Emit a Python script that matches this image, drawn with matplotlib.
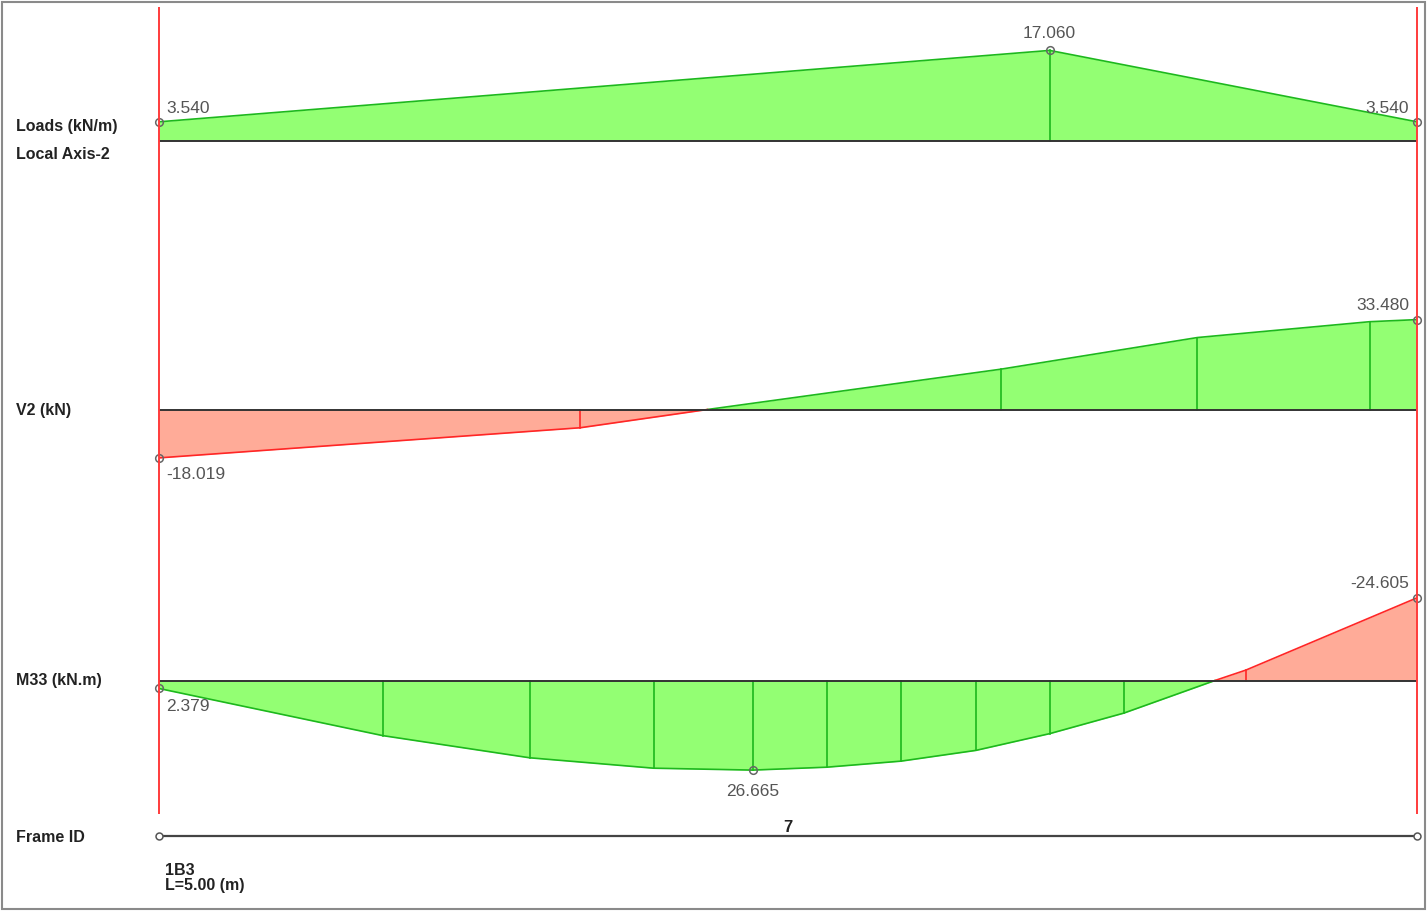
import numpy as np
import matplotlib
matplotlib.use("Agg")
import matplotlib.pyplot as plt
from matplotlib.patches import Rectangle

plt.rcParams['font.family'] = ['Liberation Sans', 'DejaVu Sans']

# ==========================
# Beam data
# ==========================
L = 5.0  # beam length (m)
frame_name = "1B3"
frame_id = "7"

load_x = [0.0, 3.54, 5.0]
load_w = [3.540, 17.060, 3.540]          # kN/m

shear_x = [0.0, 1.674, 2.180, 3.345, 4.127, 4.812, 5.0]
shear_v = [-18.019, -6.8, 0.0, 15.0, 26.8, 32.7, 33.480]   # kN

moment_x = [0.0, 0.889, 1.473, 1.966, 2.359, 2.654, 2.949, 3.247,
            3.541, 3.835, 4.197, 4.320, 5.0]
moment_m = [2.379, 16.4, 23.0, 26.1, 26.665, 25.8, 24.0, 20.8,
            15.8, 9.7, 0.0, -3.1, -24.605]                  # kN.m

# ==========================
# Layout / style
# ==========================
W, H = 1428, 912
X0, X1 = 159, 1417
GREEN_FILL = '#93ff73'
GREEN_EDGE = '#1db81d'
RED_FILL = '#ffab98'
RED_EDGE = '#ff2626'
VAL_COLOR = '#555555'
LBL_COLOR = '#222222'

fig = plt.figure(figsize=(W / 100, H / 100), dpi=100)


def panel(base, scale, up, down, invert=False):
    """Axes whose x spans the beam and whose zero line sits at pixel row `base`."""
    ax = fig.add_axes([X0 / W, (H - base - 0.5 - down) / H, (X1 - X0) / W, (up + down) / H])
    ax.set_xlim(0, L)
    if invert:
        ax.set_ylim(down / scale, -up / scale)
    else:
        ax.set_ylim(-down / scale, up / scale)
    ax.axis('off')
    return ax


def draw_diagram(ax, xs, vals):
    xs = np.asarray(xs)
    vals = np.asarray(vals)
    ax.fill_between(xs, 0, vals, where=vals >= 0, interpolate=True,
                    color=GREEN_FILL, lw=0, zorder=1)
    ax.fill_between(xs, 0, vals, where=vals <= 0, interpolate=True,
                    color=RED_FILL, lw=0, zorder=1)
    ax.plot(xs, np.where(vals >= 0, vals, np.nan), color=GREEN_EDGE, lw=1.2, zorder=2)
    ax.plot(xs, np.where(vals <= 0, vals, np.nan), color=RED_EDGE, lw=1.2, zorder=2)
    for x, v in zip(xs[1:-1], vals[1:-1]):
        if v == 0:
            continue
        ax.plot([x, x], [0, v], color=GREEN_EDGE if v > 0 else RED_EDGE, lw=1.2, zorder=2)
    ax.plot([0, L], [0, 0], color='#333333', lw=1.4, zorder=3)


def mark(ax, x, v, text, dx, dy, ha):
    ax.plot(x, v, 'o', ms=5.5, mfc='none', mec='#666666', mew=1.1, zorder=5, clip_on=False)
    ax.annotate(text, (x, v), xytext=(dx, dy), textcoords='offset pixels',
                ha=ha, va='center', fontsize=12.5, color=VAL_COLOR, zorder=6)


# Loads
ax_load = panel(141, 5.28, 125, 20)
draw_diagram(ax_load, load_x, load_w)
mark(ax_load, load_x[0], load_w[0], f"{load_w[0]:.3f}", 7, 14, 'left')
mark(ax_load, load_x[1], load_w[1], f"{load_w[1]:.3f}", 0, 18, 'center')
mark(ax_load, load_x[2], load_w[2], f"{load_w[2]:.3f}", -8, 14, 'right')

# Shear
ax_v = panel(410, 2.685, 120, 80)
draw_diagram(ax_v, shear_x, shear_v)
mark(ax_v, shear_x[0], shear_v[0], f"{shear_v[0]:.3f}", 7, -16, 'left')
mark(ax_v, shear_x[-1], shear_v[-1], f"{shear_v[-1]:.3f}", -8, 15, 'right')

# Moment (positive drawn downward)
ax_m = panel(681, 3.36, 110, 120, invert=True)
draw_diagram(ax_m, moment_x, moment_m)
i_max = int(np.argmax(moment_m))
mark(ax_m, moment_x[0], moment_m[0], f"{moment_m[0]:.3f}", 7, -17, 'left')
mark(ax_m, moment_x[i_max], moment_m[i_max], f"{moment_m[i_max]:.3f}", 0, -20, 'center')
mark(ax_m, moment_x[-1], moment_m[-1], f"{moment_m[-1]:.3f}", -8, 15, 'right')

# Overlay: beam end lines and frame id line (y in pixel rows)
ov = fig.add_axes([X0 / W, 0, (X1 - X0) / W, 1], zorder=10)
ov.set_xlim(0, L)
ov.set_ylim(H, 0)
ov.axis('off')
ov.vlines([0, L], 8, 815, color='#ff3b3b', lw=1.4, clip_on=False)
ov.plot([0, L], [837, 837], color='#444444', lw=1.6, clip_on=False)
ov.plot([0, L], [837, 837], 'o', ms=5, mfc='white', mec='#555555', mew=1.1, clip_on=False)
ov.text(L / 2, 828, frame_id, ha='center', va='center', fontsize=12,
        fontweight='bold', color=LBL_COLOR)
ov.text(0.025, 871, frame_name, ha='left', va='center', fontsize=11.5,
        fontweight='bold', color=LBL_COLOR)
ov.text(0.025, 886, f"L={L:.2f} (m)", ha='left', va='center', fontsize=11.5,
        fontweight='bold', color=LBL_COLOR)

# Row labels
for label, row in [("Loads (kN/m)", 127), ("Local Axis-2", 155), ("V2 (kN)", 411),
                   ("M33 (kN.m)", 681), ("Frame ID", 838)]:
    fig.text(16 / W, 1 - row / H, label, ha='left', va='center', fontsize=11.5,
             fontweight='bold', color=LBL_COLOR)

# Outer border
fig.patches.append(Rectangle((2 / W, 2 / H), 1423 / W, 907 / H, transform=fig.transFigure,
                             fill=False, ec='#8a8a8a', lw=1.5))

fig.savefig("out.png", dpi=100, facecolor='white')
